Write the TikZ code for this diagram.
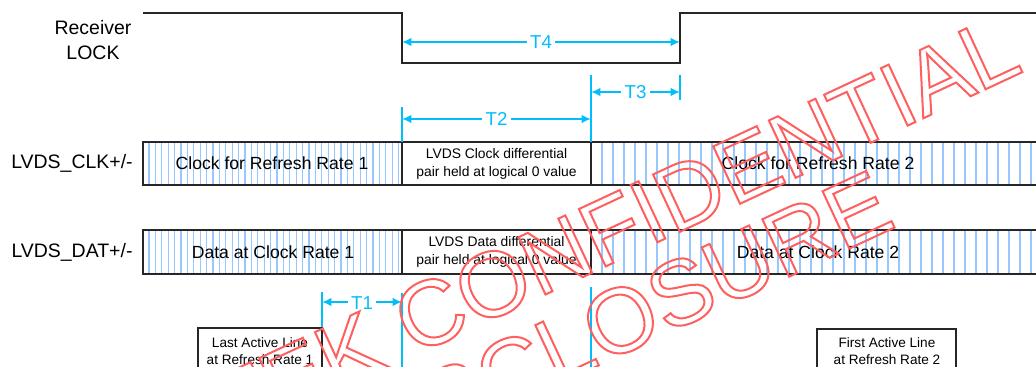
\documentclass[tikz,border=0pt]{standalone}
\usepackage{fontspec}
\setmainfont{Liberation Sans}
\usepackage{tikz}
\usetikzlibrary{arrows.meta,positioning}
\definecolor{dimcyan}{RGB}{0,190,250}
\definecolor{hatchblue}{RGB}{150,200,255}
\definecolor{markred}{RGB}{255,95,95}
\newcommand\outlinetext[1]{\special{pdf:literal direct 1 Tr 1.5 w}#1\special{pdf:literal direct 0 Tr}}

\begin{document}
\begin{tikzpicture}[x=0.75pt,y=-0.75pt,
  wave/.style={line width=1.5pt,draw=black!85},
  frame/.style={line width=1.4pt,draw=black!85},
  hatch/.style={hatchblue,line width=0.8pt},
  dimline/.style={dimcyan,line width=1.4pt},
  dimarrow/.style={dimline,{Latex[length=7pt,width=6.5pt]}-{Latex[length=7pt,width=6.5pt]}},
  tlabel/.style={fill=white,inner sep=2.5pt,font=\fontsize{14}{16}\selectfont},
  siglabel/.style={align=center,font=\fontsize{14.6}{18.75}\selectfont},
  boxtext/.style={font=\fontsize{13.2}{15}\selectfont},
  smalltext/.style={align=center,font=\fontsize{10.4}{13.5}\selectfont},
  notetext/.style={align=center,font=\fontsize{10.2}{12.8}\selectfont},
  watermark/.style={markred,inner sep=0pt,rotate=25,anchor=east,font=\fontsize{69}{75}\selectfont}]
\useasboundingbox (0,0) rectangle (1036,367);
\clip (0,0) rectangle (1036,367);

% Receiver LOCK
\node[siglabel] (lock) at (93,40) {Receiver\\LOCK};
\draw[wave] (143,13) -- (402,13) -- (402,63) -- (680,63) -- (680,13) -- (1040,13);
\coordinate (t4l) at (402,42);
\coordinate (t4r) at (680,42);

% hatched signal rows
\foreach \y/\h in {142/185,230/274} {
  \foreach \x in {149,155.4,...,400} \draw[hatch] (\x,\y) -- (\x,\h);
  \foreach \x in {602,613,...,1034} \draw[hatch] (\x,\y) -- (\x,\h);
  \draw[frame] (143,\y) rectangle (1040,\h);
  \draw[frame] (402,\y) -- (402,\h) (591,\y) -- (591,\h);
}
\node[siglabel] (clk) at (72,163.5) {LVDS\_CLK+/-};
\node[siglabel] (dat) at (72,252) {LVDS\_DAT+/-};
\node[boxtext] (clk1) at (272,163.5) {Clock for Refresh Rate 1};
\node[smalltext] (clk0) at (496.5,163.5) {LVDS Clock differential\\pair held at logical 0 value};
\node[boxtext] (clk2) at (818,163.5) {Clock for Refresh Rate 2};
\node[boxtext] (dat1) at (273,252) {Data at Clock Rate 1};
\node[smalltext] (dat0) at (496.5,252) {LVDS Data differential\\pair held at logical 0 value};
\node[boxtext] (dat2) at (818,252) {Data at Clock Rate 2};

% timing ticks
\coordinate (t2l) at (402,119);
\coordinate (t2r) at (591,119);
\coordinate (t3l) at (591,92);
\coordinate (t3r) at (680,92);
\coordinate (t1l) at (322,302);
\coordinate (t1r) at (402,302);
\draw[dimline] (402,107) -- (402,142);
\draw[dimline] (591,75) -- (591,142);
\draw[dimline] (680,75) -- (680,100);
\draw[dimline] (322,292) -- (322,328);
\draw[dimline] (402,293) -- (402,370);
\draw[dimline] (591,287) -- (591,370);
\draw[dimarrow] (t4l) -- node[tlabel] (t4) {T4} (t4r);
\draw[dimarrow] (t3l) -- node[tlabel] (t3) {T3} (t3r);
\draw[dimarrow] (t2l) -- node[tlabel] (t2) {T2} (t2r);
\draw[dimarrow] (t1l) -- node[tlabel,above=-9pt] (t1) {T1} (t1r);

% active line boxes
\draw[frame,fill=white] (198,328) rectangle (322,400);
\node[notetext] (last) at (260,351) {Last Active Line\\at Refresh Rate 1};
\draw[frame,fill=white] (817,329) rectangle (956,400);
\node[notetext] (first) at (887,351) {First Active Line\\at Refresh Rate 2};

% watermark
\node[watermark] (mark1) at (1012,42) {\outlinetext{MEDIATEK CONFIDENTIAL}};
\node[watermark] (mark2) at (885,197) {\outlinetext{DISCLOSURE}};
\end{tikzpicture}
\end{document}
